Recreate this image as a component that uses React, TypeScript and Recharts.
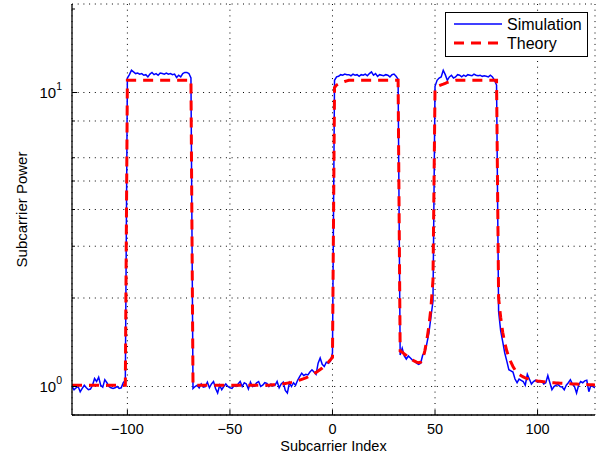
import React from "react";
import { LineChart, Line, XAxis, YAxis, CartesianGrid, Legend } from "recharts";

// Subcarrier numbering runs from -127 up to 128
const FIRST_SUBCARRIER = -127;

// ---- Theoretical subcarrier power, segment by segment ----
// -127 .. -101 (guard, noise floor)
const theoryGuardLeft = [
  1.01, 1.01, 1.01, 1.01, 1.01, 1.01, 1.01, 1.01, 1.01, 1.01,
  1.01, 1.01, 1.01, 1.01, 1.01, 1.01, 1.01, 1.01, 1.01, 1.01,
  1.01, 1.01, 1.01, 1.01, 1.01, 1.01, 1.01,
];
// -100 .. -69 (occupied band 1)
const theoryBand1 = [
  11, 11, 11, 11, 11, 11, 11, 11, 11, 11,
  11, 11, 11, 11, 11, 11, 11, 11, 11, 11,
  11, 11, 11, 11, 11, 11, 11, 11, 11, 11,
  11, 11,
];
// -68 .. 0 (gap between band 1 and band 2)
const theoryGap1 = [
  1.01, 1.01, 1.01, 1.01, 1.01, 1.01, 1.01, 1.01, 1.01, 1.01,
  1.01, 1.01, 1.01, 1.01, 1.01, 1.01, 1.01, 1.01, 1.01, 1.01,
  1.01, 1.01, 1.01, 1.01, 1.01, 1.01, 1.01, 1.01, 1.01, 1.01,
  1.01, 1.01, 1.01, 1.01, 1.01, 1.01, 1.01, 1.01,
  1.012, 1.013, 1.014, 1.015, 1.017, 1.019, 1.021, 1.024, 1.027, 1.03,
  1.033, 1.037, 1.041, 1.046, 1.051, 1.057, 1.063, 1.07, 1.078, 1.087,
  1.096, 1.106, 1.117, 1.129, 1.142, 1.156, 1.172, 1.19, 1.21, 1.232,
  1.256,
];
// 1 .. 32 (occupied band 2)
const theoryBand2 = [
  10.4, 10.6, 10.7, 10.78, 10.84, 10.9, 10.95, 11, 11, 11,
  11, 11, 11, 11, 11, 11, 11, 11, 11, 11,
  11, 11, 11, 11, 11, 11, 11, 11, 11, 11,
  11, 11,
];
// 33 .. 49 (gap between band 2 and band 3)
const theoryGap2 = [
  1.32, 1.31, 1.29, 1.275, 1.26, 1.245, 1.23, 1.22, 1.21, 1.205,
  1.21, 1.24, 1.32, 1.44, 1.6, 1.85, 2.3,
];
// 50 .. 80 (occupied band 3)
const theoryBand3 = [
  10.3, 10.45, 10.55, 10.62, 10.68, 10.75, 10.82, 10.88, 10.93, 10.97,
  11, 11, 11, 11, 11, 11, 11, 11, 11, 11,
  11, 11, 11, 11, 11, 11, 11, 11, 11, 11,
  11,
];
// 81 .. 128 (guard, roll-off into the noise floor)
const theoryGuardRight = [
  2.0, 1.72, 1.53, 1.41, 1.32, 1.26, 1.21, 1.17, 1.14, 1.12,
  1.1, 1.088, 1.078, 1.07, 1.064, 1.058, 1.054, 1.05, 1.047, 1.044,
  1.042, 1.04, 1.038, 1.036, 1.034, 1.032, 1.03, 1.029, 1.028, 1.027,
  1.026, 1.025, 1.024, 1.023, 1.022, 1.021, 1.02, 1.02, 1.019, 1.018,
  1.017, 1.016, 1.016, 1.015, 1.014, 1.013, 1.013, 1.012,
];

// ---- Simulated subcarrier power, same segments ----
const simGuardLeft = [
  1.0, 0.975, 0.99, 1.0, 0.96, 0.985, 1.01, 0.99, 0.975, 0.98,
  1.01, 1.065, 1.04, 1.075, 1.01, 0.995, 1.055, 1.03, 1.0, 0.99,
  0.985, 0.99, 1.0, 0.985, 0.99, 1.03, 1.05,
];
const simBand1 = [
  11.2, 11.5, 11.9, 11.75, 11.6, 11.65, 11.55, 11.6, 11.45, 11.5,
  11.3, 11.55, 11.7, 11.5, 11.6, 11.45, 11.65, 11.6, 11.55, 11.65,
  11.55, 11.6, 11.5, 11.55, 11.25, 11.45, 11.3, 11.6, 11.7, 11.7,
  11.6, 11.2,
];
const simGap1 = [
  0.985, 1.0, 1.01, 0.99, 1.02, 0.995, 1.0, 1.035, 0.99, 1.02,
  1.04, 0.985, 0.95, 1.01, 0.975, 1.0, 1.02, 1.0, 0.99, 0.985,
  1.005, 1.0, 1.02, 1.04, 1.0, 1.03, 1.02, 0.98, 1.035, 1.0,
  1.005, 1.03, 1.04, 1.0, 1.01, 1.03, 1.025, 1.0, 1.02, 1.005,
  1.01, 1.04, 0.99, 1.02, 1.035, 0.97, 0.95, 1.03, 1.0, 1.03,
  1.01, 1.05, 1.08, 1.11, 1.09, 1.1, 1.095, 1.12, 1.14, 1.12,
  1.1, 1.2, 1.25, 1.19, 1.17, 1.21, 1.2, 1.22, 1.3,
];
const simBand2 = [
  11.0, 11.3, 11.35, 11.5, 11.45, 11.55, 11.5, 11.5, 11.4, 11.55,
  11.45, 11.5, 11.35, 11.5, 11.45, 11.55, 11.4, 11.6, 11.75, 11.45,
  11.6, 11.35, 11.5, 11.45, 11.4, 11.5, 11.45, 11.3, 11.5, 11.55,
  11.35, 11.1,
];
const simGap2 = [
  1.28, 1.35, 1.27, 1.24, 1.27, 1.25, 1.23, 1.22, 1.2, 1.19,
  1.2, 1.28, 1.3, 1.4, 1.52, 1.72, 1.95,
];
const simBand3 = [
  10.5, 11.0, 11.2, 11.3, 11.9, 11.5, 11.0, 11.3, 11.45, 11.2,
  11.3, 11.5, 11.45, 11.3, 11.45, 11.35, 11.5, 11.45, 11.4, 11.55,
  11.45, 11.4, 11.45, 11.35, 11.4, 11.35, 11.3, 11.45, 11.3, 11.0,
  10.6,
];
const simGuardRight = [
  1.8, 1.55, 1.42, 1.3, 1.22, 1.14, 1.13, 1.12, 1.06, 1.03,
  1.06, 1.05, 1.04, 1.01, 1.1, 1.06, 1.02, 1.04, 1.05, 1.035,
  1.04, 1.045, 1.02, 1.03, 1.09, 1.03, 0.975, 1.0, 1.01, 1.015,
  1.0, 0.995, 0.975, 1.01, 1.03, 1.055, 1.02, 1.0, 0.95, 1.01,
  1.04, 1.03, 1.045, 1.05, 0.96, 1.01, 1.0, 0.99,
];

// Axis ticks
const xTicks = [-100, -50, 0, 50, 100];
const yMajorTicks = [1, 10];
const yAllTicks = [0.8, 0.9, 1, 2, 3, 4, 5, 6, 7, 8, 9, 10, 20];
const yTickExponent: Record<number, string> = { 1: "0", 10: "1" };

const theoryPower = [
  ...theoryGuardLeft, ...theoryBand1, ...theoryGap1, ...theoryBand2,
  ...theoryGap2, ...theoryBand3, ...theoryGuardRight,
];
const simulatedPower = [
  ...simGuardLeft, ...simBand1, ...simGap1, ...simBand2,
  ...simGap2, ...simBand3, ...simGuardRight,
];

const data = simulatedPower.map((sim, k) => ({
  index: FIRST_SUBCARRIER + k,
  simulation: sim,
  theory: theoryPower[k],
}));

const FONT = '"Liberation Sans", Arial, Helvetica, sans-serif';
const TICK_LEN = 5;
const MINOR_LEN = 3;
const X_MARGIN = 9;
const Y_MARGIN = 10;

function BottomTick(props: any) {
  const { x, y, payload } = props;
  const axisY = y - X_MARGIN;
  const v = payload.value as number;
  const label = v < 0 ? "\u2212" + Math.abs(v) : String(v);
  return (
    <g>
      <line x1={x} x2={x} y1={axisY} y2={axisY - TICK_LEN} stroke="#000" />
      <text x={x} y={y} dy="0.71em" textAnchor="middle" fontSize={14.5} fontFamily={FONT} fill="#000">
        {label}
      </text>
    </g>
  );
}

function TopTick(props: any) {
  const { x, y } = props;
  const axisY = y + X_MARGIN;
  return <line x1={x} x2={x} y1={axisY} y2={axisY + TICK_LEN} stroke="#000" />;
}

function LeftTick(props: any) {
  const { x, y, payload } = props;
  const v = payload.value as number;
  const axisX = x + Y_MARGIN;
  const major = yMajorTicks.includes(v);
  return (
    <g>
      <line x1={axisX} x2={axisX + (major ? TICK_LEN : MINOR_LEN)} y1={y} y2={y} stroke="#000" />
      {major && (
        <text x={x} y={y + 5.5} textAnchor="end" fontSize={15} fontFamily={FONT} fill="#000">
          <tspan>10</tspan>
          <tspan dy={-8.5} fontSize={10.5}>{yTickExponent[v]}</tspan>
        </text>
      )}
    </g>
  );
}

function RightTick(props: any) {
  const { x, y, payload } = props;
  const v = payload.value as number;
  const axisX = x - Y_MARGIN;
  const major = yMajorTicks.includes(v);
  return <line x1={axisX} x2={axisX - (major ? TICK_LEN : MINOR_LEN)} y1={y} y2={y} stroke="#000" />;
}

function LegendBox(props: any) {
  const items = props.payload || [];
  return (
    <div
      style={{
        width: 143,
        height: 45,
        boxSizing: "border-box",
        border: "1px solid #000",
        background: "#fff",
      }}
    >
      <svg width={141} height={43} style={{ display: "block" }}>
        {items.map((entry: any, i: number) => {
          const cy = 11 + i * 19;
          const p = entry.payload || {};
          return (
            <g key={entry.value}>
              <line
                x1={8}
                x2={56}
                y1={cy}
                y2={cy}
                stroke={entry.color}
                strokeWidth={p.strokeWidth || 1.5}
                strokeDasharray={p.strokeDasharray}
              />
              <text x={61} y={cy + 5.5} fontSize={16} fontFamily={FONT} fill="#000">
                {entry.value}
              </text>
            </g>
          );
        })}
      </svg>
    </div>
  );
}

export default function App() {
  return (
    <div style={{ position: "absolute", left: 0, top: 0, background: "#fff" }}>
      <LineChart
        width={607}
        height={459}
        data={data}
        margin={{ top: 4, right: 12, bottom: 0, left: 12 }}
      >
        <CartesianGrid stroke="#000" strokeDasharray="1 4.7" />
        <XAxis
          dataKey="index"
          type="number"
          domain={[-127, 128]}
          allowDataOverflow
          ticks={xTicks}
          tickSize={0}
          tickMargin={X_MARGIN}
          tickLine={false}
          tick={<BottomTick />}
          axisLine={{ stroke: "#000", strokeWidth: 1.3 }}
          height={44}
          label={{
            value: "Subcarrier Index",
            position: "insideBottom",
            offset: 8,
            fontSize: 14.5,
            fontFamily: FONT,
            fill: "#000",
          }}
        />
        <XAxis
          xAxisId="top"
          orientation="top"
          dataKey="index"
          type="number"
          domain={[-127, 128]}
          allowDataOverflow
          ticks={xTicks}
          tickSize={0}
          tickMargin={X_MARGIN}
          tickLine={false}
          tick={<TopTick />}
          axisLine={{ stroke: "#000", strokeWidth: 1.3 }}
          height={0}
        />
        <YAxis
          scale="log"
          type="number"
          domain={[0.8, 20]}
          allowDataOverflow
          ticks={yAllTicks}
          tickSize={0}
          tickMargin={Y_MARGIN}
          tickLine={false}
          tick={<LeftTick />}
          axisLine={{ stroke: "#000", strokeWidth: 1.3 }}
          width={60}
          label={{
            value: "Subcarrier Power",
            angle: -90,
            position: "insideLeft",
            offset: 10,
            fontSize: 15,
            fontFamily: FONT,
            fill: "#000",
            style: { textAnchor: "middle" },
          }}
        />
        <YAxis
          yAxisId="right"
          orientation="right"
          scale="log"
          type="number"
          domain={[0.8, 20]}
          allowDataOverflow
          ticks={yAllTicks}
          tickSize={0}
          tickMargin={Y_MARGIN}
          tickLine={false}
          tick={<RightTick />}
          axisLine={{ stroke: "#000", strokeWidth: 1.3 }}
          width={0}
        />
        <Line
          type="linear"
          dataKey="simulation"
          name="Simulation"
          stroke="#0000ff"
          strokeWidth={1.5}
          dot={false}
          isAnimationActive={false}
        />
        <Line
          type="linear"
          dataKey="theory"
          name="Theory"
          stroke="#ff0000"
          strokeWidth={3}
          strokeDasharray="10 7"
          dot={false}
          isAnimationActive={false}
        />
        <Legend
          layout="vertical"
          align="center"
          verticalAlign="middle"
          content={<LegendBox />}
          wrapperStyle={{ left: 445, top: 12, width: 143, height: 45 }}
        />
      </LineChart>
    </div>
  );
}
